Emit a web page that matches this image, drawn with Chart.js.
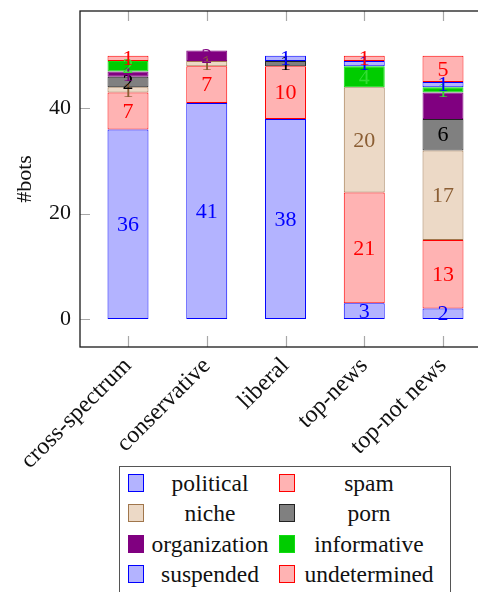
<!DOCTYPE html>
<html>
<head>
<meta charset="utf-8">
<script src="https://cdn.jsdelivr.net/npm/chart.js@4/dist/chart.umd.min.js"></script>
<style>
  html, body { margin: 0; padding: 0; background: #fff; overflow: hidden; width: 478px; height: 592px; }
  #clip { position: absolute; left: 0; top: 0; width: 478px; height: 475px; overflow: hidden; }
  #wrap { position: absolute; left: 0; top: 0; width: 495px; height: 475px; }
  #legend {
    position: absolute; left: 119px; top: 466px; width: 332px; height: 126px;
    border: 1.5px solid #555; border-bottom: none; box-sizing: border-box; background: #fff;
    font-family: "Liberation Serif", "Times New Roman", serif; font-size: 23.5px; color: #111;
  }
  .item { position: absolute; height: 30px; display: flex; align-items: center; }
  .sw { width: 14px; height: 16px; border: 1.5px solid; flex: none; }
  .tx { text-align: center; white-space: nowrap; line-height: 30px; }
</style>
</head>
<body>
<div id="clip"><div id="wrap"><canvas id="c" width="495" height="475"></canvas></div></div>
<div id="legend"></div>
<script>
// Account groups per news source category
const categories = ["cross-spectrum", "conservative", "liberal", "top-news", "top-not news"];
const yTickValues = [0, 20, 40];

const political    = [36, 41, 38, 3, 2];
const spam         = [7, 7, 10, 21, 13];
const niche        = [1, 1, 0, 20, 17];
const porn         = [2, 0, 1, 0, 6];
const organization = [1, 2, 0, 0, 5];
const informative  = [2, 0, 0, 4, 1];
const suspended    = [0, 0, 1, 1, 1];
const undetermined = [1, 0, 0, 1, 5];

const seriesNames = ["political", "spam", "niche", "porn", "organization", "informative", "suspended", "undetermined"];
const seriesValues = [political, spam, niche, porn, organization, informative, suspended, undetermined];
const fills   = ["#b3b3ff", "#ffb3b3", "#ecd9c6", "#808080", "#800080", "#00cc00", "#b3b3ff", "#ffb3b3"];
const borders = ["#0000ff", "#ff0000", "#a0764c", "#222222", "#800080", "#10dd10", "#0000ff", "#ff0000"];
const labelColors = ["#0000ff", "#ff0000", "#8b5e34", "#000000", "#800080", "#33dd33", "#0000ff", "#ff0000"];

const SERIF = "'Liberation Serif', 'Times New Roman', serif";

const datasets = seriesNames.map((name, k) => ({
  label: name,
  data: seriesValues[k].map((v, i) => ({ x: i, y: v === 0 ? null : v })),
  backgroundColor: fills[k],
  borderColor: borders[k],
  borderWidth: 1,
  borderSkipped: false,
  categoryPercentage: 1,
  barPercentage: 0.52
}));

// Value printed inside each stacked segment
const segmentLabels = {
  id: 'segmentLabels',
  afterDatasetsDraw(chart) {
    const ctx = chart.ctx;
    ctx.save();
    ctx.font = "22px " + SERIF;
    ctx.textAlign = 'center';
    ctx.textBaseline = 'middle';
    chart.data.datasets.forEach((ds, k) => {
      const meta = chart.getDatasetMeta(k);
      meta.data.forEach((bar, i) => {
        const v = seriesValues[k][i];
        if (!v) return;
        ctx.fillStyle = labelColors[k];
        ctx.fillText(String(v), bar.x, (bar.y + bar.base) / 2 + 1);
      });
    });
    ctx.restore();
  }
};

// Closed axis frame with inward tick marks
const frame = {
  id: 'frame',
  afterDraw(chart) {
    const { ctx, chartArea: a, scales } = chart;
    ctx.save();
    ctx.strokeStyle = '#a8a8a8';
    ctx.lineWidth = 1.2;
    yTickValues.forEach(v => {
      const y = Math.round(scales.y.getPixelForValue(v)) + 0.5;
      ctx.beginPath();
      ctx.moveTo(a.left, y); ctx.lineTo(a.left + 10, y);
      ctx.moveTo(a.right, y); ctx.lineTo(a.right - 10, y);
      ctx.stroke();
    });
    categories.forEach((c, i) => {
      const x = Math.round(scales.x.getPixelForValue(i)) + 0.5;
      ctx.beginPath();
      ctx.moveTo(x, a.bottom); ctx.lineTo(x, a.bottom - 11);
      ctx.moveTo(x, a.top); ctx.lineTo(x, a.top + 10);
      ctx.stroke();
    });
    ctx.strokeStyle = '#1a1a1a';
    ctx.lineWidth = 1.3;
    ctx.strokeRect(a.left, a.top, a.right - a.left, a.bottom - a.top);
    ctx.restore();
  }
};

new Chart(document.getElementById('c'), {
  type: 'bar',
  data: { datasets },
  plugins: [segmentLabels, frame],
  options: {
    responsive: false,
    animation: false,
    devicePixelRatio: 1,
    layout: { padding: { top: 11, right: 4, left: 0, bottom: 0 } },
    plugins: { legend: { display: false }, tooltip: { enabled: false } },
    scales: {
      x: {
        type: 'linear',
        stacked: true,
        offset: false,
        min: -0.6095,
        max: 4.6095,
        grid: { display: false, drawTicks: false, offset: false },
        border: { display: false },
        afterBuildTicks(s) { s.ticks = categories.map((c, i) => ({ value: i })); },
        afterFit(s) { s.height = 128; s.paddingLeft = 0; s.paddingRight = 0; },
        ticks: {
          autoSkip: false,
          minRotation: 45,
          maxRotation: 45,
          padding: 5,
          color: '#111',
          font: { family: SERIF, size: 24 },
          callback: (v) => categories[v]
        }
      },
      y: {
        stacked: true,
        min: -5.33,
        max: 58.5,
        grid: { display: false, drawTicks: false },
        border: { display: false },
        afterBuildTicks(s) { s.ticks = yTickValues.map(v => ({ value: v })); },
        afterFit(s) { s.width = 80; s.paddingTop = 0; s.paddingBottom = 0; },
        ticks: {
          padding: 9,
          color: '#111',
          font: { family: SERIF, size: 22 }
        },
        title: {
          display: true,
          text: '#bots',
          color: '#111',
          font: { family: SERIF, size: 22 },
          padding: { top: 12, bottom: 0 }
        }
      }
    }
  }
});

// Two-column key built from the series lists
const legend = document.getElementById('legend');
const colX = [{ sw: 8, tx: 26, w: 130 }, { sw: 159, tx: 177, w: 146 }];
seriesNames.forEach((name, k) => {
  const col = colX[k % 2];
  const row = Math.floor(k / 2);
  const item = document.createElement('div');
  item.className = 'item';
  item.style.left = col.sw + 'px';
  item.style.top = (1 + row * 30.4) + 'px';
  const sw = document.createElement('div');
  sw.className = 'sw';
  sw.style.background = fills[k];
  sw.style.borderColor = borders[k];
  const tx = document.createElement('div');
  tx.className = 'tx';
  tx.style.width = col.w + 'px';
  tx.style.marginLeft = (col.tx - col.sw - 17) + 'px';
  tx.textContent = name;
  item.appendChild(sw);
  item.appendChild(tx);
  legend.appendChild(item);
});
</script>
</body>
</html>
